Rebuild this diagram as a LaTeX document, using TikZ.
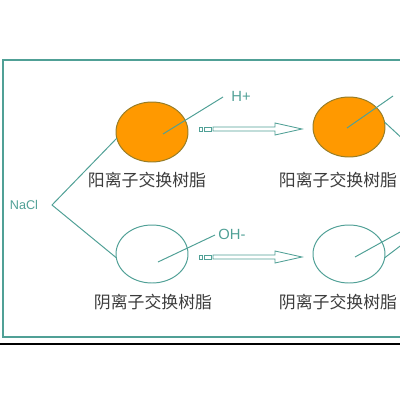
\documentclass[tikz,border=0pt]{standalone}
\usepackage{fontspec}
\setmainfont{Liberation Sans}
\newfontfamily\cjk{Noto Sans CJK SC}
\usepackage{tikz}
\usetikzlibrary{calc,positioning,shapes}
\definecolor{Teal}{RGB}{80,160,150}
\definecolor{Resin}{RGB}{255,153,0}
\definecolor{ResinEdge}{RGB}{150,125,40}
\definecolor{LabelGray}{RGB}{60,60,60}

\begin{document}
\begin{tikzpicture}[x=0.25mm, y=-0.25mm, Teal, line width=0.7pt,
       every node/.style={inner sep=0pt, outer sep=0pt},
       resin/.style 2 args = {ellipse, minimum width=18mm, minimum height=#1,
                              draw=#2, line width=0.7pt},
       resinname/.style = {font=\cjk\fontsize{12}{14}\selectfont, text=LabelGray},
       ion/.style = {font=\fontsize{10.5}{12}\selectfont, text=Teal},
       blockarrow/.style = {draw=Teal, line width=0.6pt, fill=white}]
	\useasboundingbox (0,0) rectangle (400,400);
	\clip (0,0) rectangle (400,400);

	%% Frame
	\draw[line width=0.8pt] (3,60) rectangle (420,337);
	\draw[black, line width=0.9pt] (0,344) -- (400,344);

	%% Resins
	\node [resin={15mm}{ResinEdge}, fill=Resin] (cat1) at (152,132) {};
	\node [resin={15mm}{ResinEdge}, fill=Resin] (cat2) at (349,127) {};
	\node [resin={14.5mm}{Teal}] (an1) at (152,254) {};
	\node [resin={14.5mm}{Teal}] (an2) at (349,254) {};

	\node [resinname] (cat1_lbl) at (147,180) {阳离子交换树脂};
	\node [resinname] (cat2_lbl) at (338,180) {阳离子交换树脂};
	\node [resinname] (an1_lbl) at (153,302) {阴离子交换树脂};
	\node [resinname] (an2_lbl) at (338,302) {阴离子交换树脂};

	%% Ions
	\node [ion, font=\fontsize{9}{10}\selectfont] (nacl) at (24,205) {NaCl};
	\node [ion] (hplus) at (241,96) {H+};
	\node [ion] (ohminus) at (232,234) {OH-};

	%% Reference points for the leaders
	\coordinate (fork) at (52,205);
	\coordinate (hp_in) at (163,134);
	\coordinate (hp_end) at (223,97);
	\coordinate (oh_in) at (158,262);
	\coordinate (oh_end) at (215,235);
	\coordinate (cat2_in) at (347,128);
	\coordinate (cat2_end) at (393,96);
	\coordinate (cat2_out) at (420,155);
	\coordinate (an2_in) at (355,257);
	\coordinate (an2_end) at (420,221);
	\coordinate (an2_out) at (420,231);

	%% NaCl split
	\draw (cat1.190) -- (fork) -- (an1.186);

	%% Leaders
	\draw (hp_in) -- (hp_end);
	\draw (oh_in) -- (oh_end);
	\draw (cat2_in) -- (cat2_end);
	\draw (cat2.8) -- (cat2_out);
	\draw (an2_in) -- (an2_end);
	\draw (an2.-6) -- (an2_out);

	%% Exchange arrows
	\foreach \y/\n in {129/top, 257/bot} {
		\draw[blockarrow] (199,\y-2) rectangle (202,\y+2);
		\draw[blockarrow] (204,\y-2) rectangle (211,\y+2);
		\draw[blockarrow] (213,\y-2) -- (275,\y-2) -- (275,\y-6) -- (302,\y)
		                  -- (275,\y+6) -- (275,\y+2) -- (213,\y+2) -- cycle;
	}
\end{tikzpicture}
\end{document}
